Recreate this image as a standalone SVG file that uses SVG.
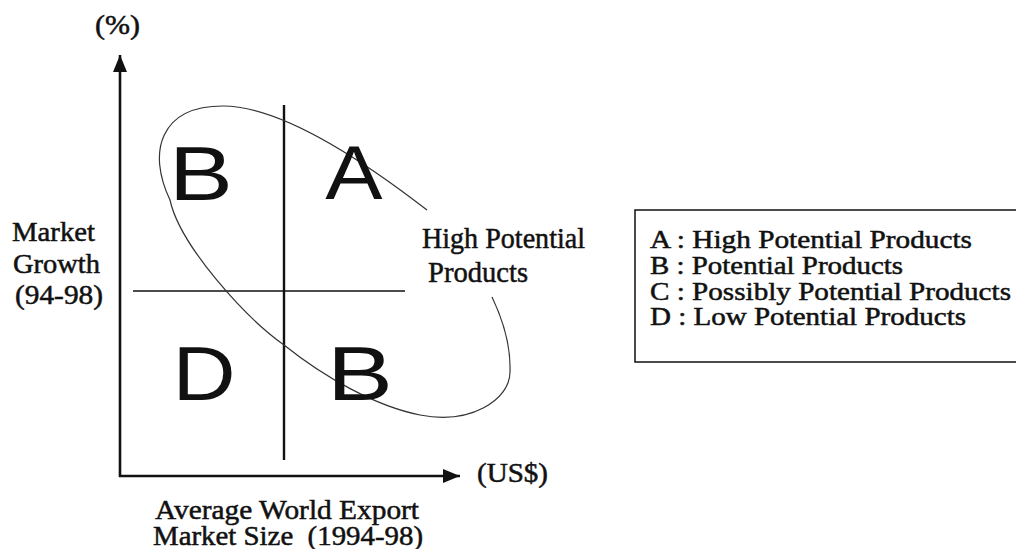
<svg xmlns="http://www.w3.org/2000/svg" width="1016" height="549" viewBox="0 0 1016 549">
  <style>
    .serif { font-family: "Liberation Serif", "Times New Roman", serif; font-size: 27px; fill: #111; stroke: #111; stroke-width: 0.5; }
    .legend { font-size: 25px; }
    .label { font-size: 30px; }
    .big { font-family: "Liberation Sans", Arial, sans-serif; font-size: 76px; fill: #111; text-anchor: middle; }
    .axis { stroke: #111; stroke-width: 2.6; fill: none; }
    .divider { stroke: #111; fill: none; }
    .curve { stroke: #333; stroke-width: 1.2; fill: none; }
  </style>
  <defs>
    <marker id="arrow" markerUnits="userSpaceOnUse" markerWidth="18" markerHeight="14" refX="17" refY="7" orient="auto">
      <path d="M0,0 L17,7 L0,14 z" fill="#111"/>
    </marker>
  </defs>
  <rect width="1016" height="549" fill="#fff"/>

  <g id="connectors">
    <line id="y-axis" class="axis" x1="120" y1="477" x2="120" y2="55" marker-end="url(#arrow)"/>
    <line id="x-axis" class="axis" x1="119" y1="476" x2="460" y2="476" marker-end="url(#arrow)"/>
    <line id="v-divider" class="divider" stroke-width="2.4" x1="284" y1="105" x2="284" y2="460"/>
    <line id="h-divider" class="divider" stroke-width="1.3" x1="133" y1="291" x2="405" y2="291"/>
    <path id="potential-curve" class="curve" d="M223,106 C265,106 330,135 427,210 M492,297 C502,318 511,345 510,372 C510,400 470,425 420,415 C375,406 324,377 284,345 C246,318 180,246 170,200 C147,152 160,106 223,106"/>
  </g>

  <g id="quadrant-B-top"><text class="big" transform="translate(201,200) scale(1.26,1)">B</text></g>
  <g id="quadrant-A"><text class="big" transform="translate(354,199) scale(1.13,1)">A</text></g>
  <g id="quadrant-D"><text class="big" transform="translate(204,400) scale(1.15,1)">D</text></g>
  <g id="quadrant-B-bottom"><text class="big" transform="translate(360,400) scale(1.3,1)">B</text></g>

  <g id="y-label">
    <text class="serif" x="95" y="34" textLength="45" lengthAdjust="spacingAndGlyphs">(%)</text>
    <text class="serif" x="12" y="241" textLength="83" lengthAdjust="spacingAndGlyphs">Market</text>
    <text class="serif" x="13" y="273" textLength="87" lengthAdjust="spacingAndGlyphs">Growth</text>
    <text class="serif" x="15" y="304" textLength="88" lengthAdjust="spacingAndGlyphs">(94-98)</text>
  </g>

  <g id="x-label">
    <text class="serif" x="477" y="482" textLength="71" lengthAdjust="spacingAndGlyphs">(US$)</text>
    <text class="serif" x="155" y="519" textLength="264" lengthAdjust="spacingAndGlyphs">Average World Export</text>
    <text class="serif" x="153" y="545" textLength="270" lengthAdjust="spacingAndGlyphs" style="white-space:pre">Market Size  (1994-98)</text>
  </g>

  <g id="high-potential-label">
    <text class="serif label" x="422" y="248" textLength="163" lengthAdjust="spacingAndGlyphs">High Potential</text>
    <text class="serif label" x="428" y="282" textLength="100" lengthAdjust="spacingAndGlyphs">Products</text>
  </g>

  <g id="legend">
    <rect x="635" y="210" width="400" height="152" fill="none" stroke="#111" stroke-width="1.5"/>
    <text class="serif legend" x="650" y="248" textLength="322" lengthAdjust="spacingAndGlyphs">A : High Potential Products</text>
    <text class="serif legend" x="650" y="274" textLength="253" lengthAdjust="spacingAndGlyphs">B : Potential Products</text>
    <text class="serif legend" x="650" y="300" textLength="361" lengthAdjust="spacingAndGlyphs">C : Possibly Potential Products</text>
    <text class="serif legend" x="650" y="325" textLength="316" lengthAdjust="spacingAndGlyphs">D : Low Potential Products</text>
  </g>
</svg>
